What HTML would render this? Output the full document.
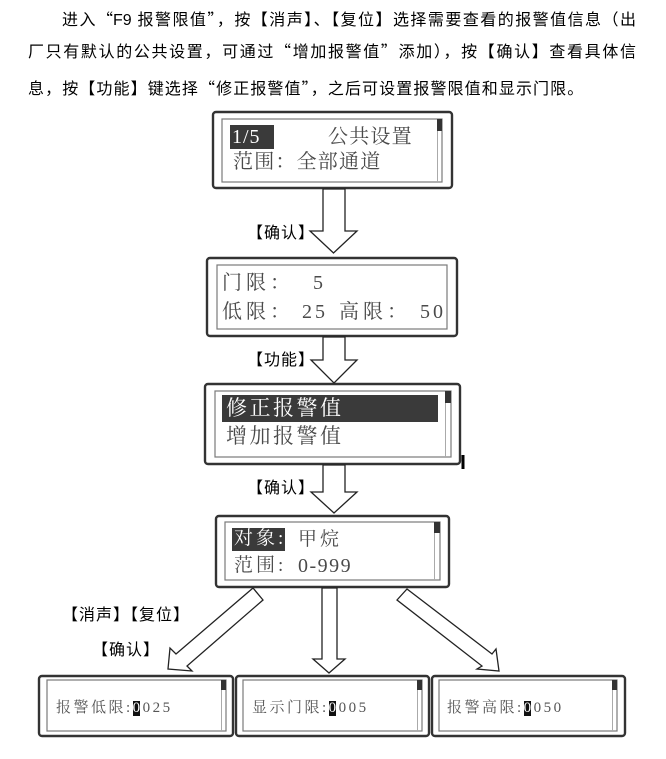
<!DOCTYPE html>
<html><head><meta charset="utf-8"><style>
html,body{margin:0;padding:0;background:#fff;}
#c{position:relative;width:666px;height:759px;overflow:hidden;background:#fff;}
svg{position:absolute;left:0;top:0;}
.t{position:absolute;white-space:nowrap;}
.intro{font-family:"Liberation Sans","Noto Sans CJK SC",sans-serif;font-size:16px;line-height:16px;color:#000;}
.q{font-family:"Noto Sans CJK SC",sans-serif;}
.j{text-align:justify;text-align-last:justify;text-justify:inter-character;}
.lcd{font-family:"Liberation Serif","Noto Serif CJK SC",serif;color:#4a4a4a;}
.lbl{font-family:"Liberation Sans","Noto Sans CJK SC",sans-serif;font-size:16px;line-height:16px;letter-spacing:1px;color:#000;}
.hl{background:#111;color:#fff;letter-spacing:0;margin-right:2.5px;display:inline-block;line-height:15px;height:15px;}
</style></head><body><div id="c">
<svg width="666" height="759" viewBox="0 0 666 759">
 <g fill="#fff" stroke="#333" stroke-width="2.4">
  <rect x="213" y="112" width="239" height="76" rx="3"/>
  <rect x="207" y="258" width="250" height="78" rx="3"/>
  <rect x="205" y="384" width="255" height="80" rx="3"/>
  <rect x="216" y="516" width="233" height="71" rx="3"/>
  <rect x="39" y="676" width="194" height="60" rx="3"/>
  <rect x="236" y="676" width="193" height="60" rx="3"/>
  <rect x="432" y="676" width="193" height="60" rx="3"/>
 </g>
 <g fill="none" stroke="#7a7a7a" stroke-width="1.2">
  <rect x="222" y="119" width="220" height="63"/>
  <rect x="217" y="265" width="230" height="64"/>
  <rect x="215" y="391" width="236" height="66"/>
  <rect x="225" y="522" width="215" height="58"/>
  <rect x="47" y="680" width="179" height="51"/>
  <rect x="243" y="680" width="179" height="51"/>
  <rect x="439" y="680" width="178" height="51"/>
 </g>
 <!-- scrollbars -->
 <g fill="#333">
  <rect x="437" y="119" width="5" height="12"/>
  <rect x="445" y="391" width="6" height="12"/>
  <rect x="434" y="522" width="6" height="11"/>
  <rect x="221" y="680" width="5" height="10"/>
  <rect x="417" y="680" width="5" height="10"/>
  <rect x="612" y="680" width="5" height="10"/>
 </g>
 <g stroke="#aaa" stroke-width="1">
  <line x1="437.5" y1="131" x2="437.5" y2="182"/>
  <line x1="445.5" y1="403" x2="445.5" y2="457"/>
  <line x1="434.5" y1="533" x2="434.5" y2="580"/>
  <line x1="221.5" y1="690" x2="221.5" y2="731"/>
  <line x1="417.5" y1="690" x2="417.5" y2="731"/>
  <line x1="612.5" y1="690" x2="612.5" y2="731"/>
 </g>
 <!-- highlights -->
 <g fill="#3a3a3a">
  <rect x="230" y="125" width="44" height="24"/>
  <rect x="222" y="395" width="216" height="27"/>
  <rect x="232" y="528" width="53" height="23"/>
 </g>
 <!-- arrows -->
 <g fill="#fff" stroke="#222" stroke-width="1.3" stroke-linejoin="miter">
  <polygon points="323,189 345,189 345,231 357,231 333.5,253 310,231 323,231"/>
  <polygon points="323,337 345,337 345,360 357,360 334,383 311,360 323,360"/>
  <polygon points="323,465 345,465 345,492 357,492 334,513 311,492 323,492"/>
  <polygon points="322,588 337,588 337,659 345,659 329,673 313,659 322,659"/>
  <polygon points="253,588 176,654 170,648 168,669 192,671 187,666 263,600"/>
  <polygon points="407,589 492,654 496,649 499,671 477,669 482,666 397,600"/>
 </g>
 <rect x="461.5" y="455" width="3" height="14" fill="#000"/>
</svg>

<!-- intro -->
<div class="t intro j" style="left:62px;top:10px;width:574px;">进入<span class="q">“</span>F9 报警限值<span class="q">”</span>，按【消声】、【复位】选择需要查看的报警值信息（出</div>
<div class="t intro j" style="left:28px;top:42px;width:608px;">厂只有默认的公共设置，可通过<span class="q">“</span>增加报警值<span class="q">”</span>添加），按【确认】查看具体信</div>
<div class="t intro" style="left:28px;top:79px;letter-spacing:1.1px;">息，按【功能】键选择<span class="q">“</span>修正报警值<span class="q">”</span>，之后可设置报警限值和显示门限。</div>

<!-- box 1 -->
<div class="t lcd" style="left:232px;top:127px;font-size:20px;line-height:20px;color:#fff;letter-spacing:1px;">1/5</div>
<div class="t lcd" style="left:328px;top:127px;font-size:20px;line-height:20px;letter-spacing:1.2px;">公共设置</div>
<div class="t lcd" style="left:233px;top:152px;font-size:20px;line-height:20px;letter-spacing:1.2px;">范围：全部通道</div>

<!-- box 2 -->
<div class="t lcd" style="left:222px;top:273px;font-size:20px;line-height:20px;letter-spacing:4px;">门限：</div>
<div class="t lcd" style="left:313px;top:273px;font-size:20px;line-height:20px;">5</div>
<div class="t lcd" style="left:222px;top:302px;font-size:20px;line-height:20px;letter-spacing:4px;">低限：</div>
<div class="t lcd" style="left:302px;top:302px;font-size:20px;line-height:20px;letter-spacing:3px;">25</div>
<div class="t lcd" style="left:339px;top:302px;font-size:20px;line-height:20px;letter-spacing:4px;">高限：</div>
<div class="t lcd" style="left:420px;top:302px;font-size:20px;line-height:20px;letter-spacing:3px;">50</div>

<!-- box 3 -->
<div class="t lcd" style="left:226px;top:398px;font-size:21px;line-height:21px;letter-spacing:2.5px;color:#fff;">修正报警值</div>
<div class="t lcd" style="left:226px;top:426px;font-size:21px;line-height:21px;letter-spacing:2.5px;">增加报警值</div>

<!-- box 4 -->
<div class="t lcd" style="left:234px;top:529px;font-size:19px;line-height:19px;letter-spacing:3px;color:#fff;">对象:</div>
<div class="t lcd" style="left:298px;top:530px;font-size:19px;line-height:19px;letter-spacing:3px;">甲烷</div>
<div class="t lcd" style="left:234px;top:556px;font-size:19px;line-height:19px;letter-spacing:3px;">范围:</div>
<div class="t lcd" style="left:298px;top:556px;font-size:20px;line-height:20px;letter-spacing:1.5px;">0-999</div>

<!-- bottom boxes -->
<div class="t lcd" style="left:56px;top:701px;font-size:15px;line-height:15px;letter-spacing:2.5px;color:#555;">报警低限:<span class="hl">0</span>025</div>
<div class="t lcd" style="left:252px;top:701px;font-size:15px;line-height:15px;letter-spacing:2.5px;color:#555;">显示门限:<span class="hl">0</span>005</div>
<div class="t lcd" style="left:447px;top:701px;font-size:15px;line-height:15px;letter-spacing:2.5px;color:#555;">报警高限:<span class="hl">0</span>050</div>

<!-- labels -->
<div class="t lbl" style="left:247px;top:226px;">【确认】</div>
<div class="t lbl" style="left:247px;top:353px;">【功能】</div>
<div class="t lbl" style="left:247px;top:481px;">【确认】</div>
<div class="t lbl" style="left:62px;top:608px;">【消声】【复位】</div>
<div class="t lbl" style="left:92px;top:643px;">【确认】</div>
</div></body></html>
